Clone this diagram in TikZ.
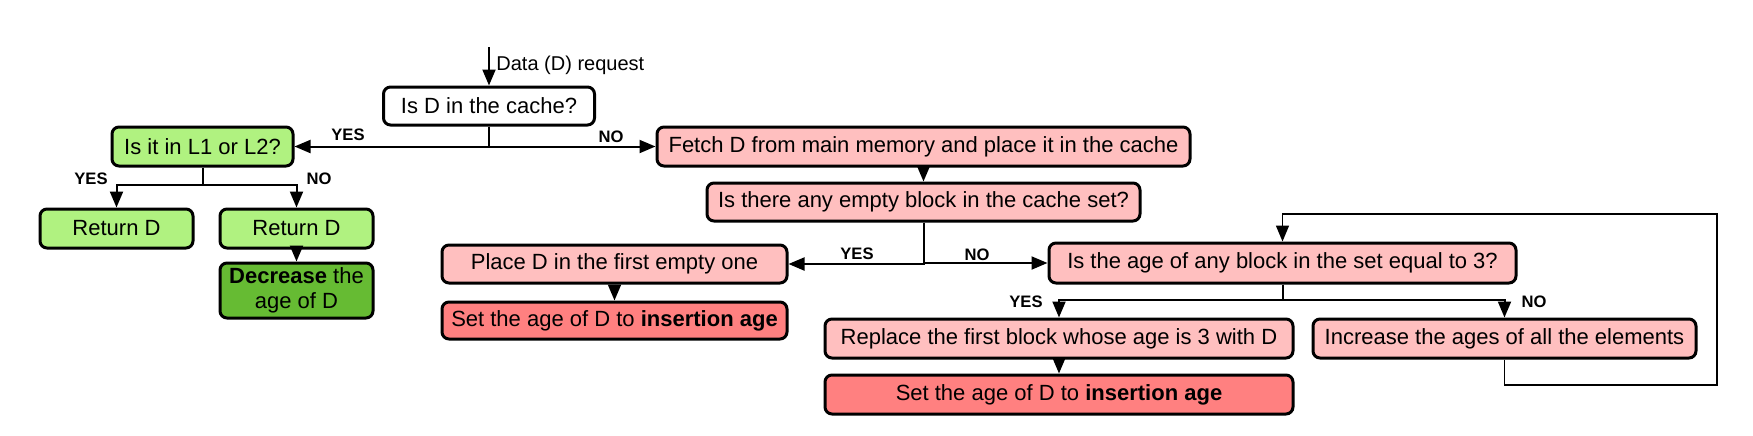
\documentclass[tikz,border=0pt]{standalone}
\usepackage{fontspec}
\setmainfont{Liberation Sans}
\usepackage{xcolor}
\usepackage{tikz}
\usetikzlibrary{positioning,arrows.meta}

\definecolor{pinkbox}{RGB}{255,191,191}
\definecolor{redbox}{RGB}{255,128,128}
\definecolor{lgreen}{RGB}{176,242,128}
\definecolor{dgreen}{RGB}{102,187,51}

\begin{document}
\begin{tikzpicture}[x=0.5pt,y=-0.5pt,
  >={Triangle[length=8pt,width=6.5pt]},
  box/.style={draw,line width=1.5pt,rounded corners=3.5pt,inner sep=0pt,
    font=\fontsize{11pt}{12.5pt}\selectfont,align=center},
  lbl/.style={font=\bfseries\fontsize{8.3pt}{9pt}\selectfont,inner sep=0pt},
  conn/.style={line width=1pt}]
           \useasboundingbox (0,0) rectangle (1753,435);
           % boxes
           \node[box,fill=white,minimum width=105.5pt,minimum height=19pt] (cache) at (489,106) {Is D in the cache?};
           \node[box,fill=lgreen,minimum width=90.5pt,minimum height=19.5pt] (l1) at (202.5,146.5) {Is it in L1 or L2?};
           \node[box,fill=lgreen,minimum width=76.5pt,minimum height=19.5pt] (retA) at (116.5,228.5) {Return D};
           \node[box,fill=lgreen,minimum width=76.5pt,minimum height=19.5pt] (retB) at (296.5,228.5) {Return D};
           \node[box,fill=dgreen,minimum width=76.5pt,minimum height=27.5pt] (dec) at (296.5,290.5) {\textbf{Decrease} the\\age of D};
           \node[box,fill=pinkbox,minimum width=266.5pt,minimum height=19.5pt] (fetch) at (923.5,146.5) {Fetch D from main memory and place it in the cache};
           \node[box,fill=pinkbox,minimum width=216.5pt,minimum height=19pt] (empty) at (923.5,202) {Is there any empty block in the cache set?};
           \node[box,fill=pinkbox,minimum width=172.5pt,minimum height=19pt] (place) at (614.5,264) {Place D in the first empty one};
           \node[box,fill=redbox,minimum width=172.5pt,minimum height=18.5pt] (setA) at (614.5,320.5) {Set the age of D to \textbf{insertion age}};
           \node[box,fill=pinkbox,minimum width=233.5pt,minimum height=20pt] (age) at (1282.5,263) {Is the age of any block in the set equal to 3?};
           \node[box,fill=pinkbox,minimum width=234pt,minimum height=19.5pt] (repl) at (1059,338.5) {Replace the first block whose age is 3 with D};
           \node[box,fill=redbox,minimum width=234pt,minimum height=19.5pt] (setB) at (1059,394.5) {Set the age of D to \textbf{insertion age}};
           \node[box,fill=pinkbox,minimum width=191.5pt,minimum height=19.5pt] (incr) at (1504.5,338.5) {Increase the ages of all the elements};

           % request
           \coordinate (src) at (489,47);
           \node[anchor=west,inner sep=0pt,font=\fontsize{10pt}{11pt}\selectfont] (req) at (496,65) {Data (D) request};
           \draw[conn,->] (src) -- (cache.north);

           % cache hit / miss
           \draw[conn,->] (cache.south) |- (l1.east);
           \draw[conn,->] (cache.south) |- (fetch.west);
           \node[lbl] (yesA) at (348,135) {YES};
           \node[lbl] (noA) at (611,137) {NO};

           \draw[conn,->] (l1.south) -- ++(0,17) -| (retA.north);
           \draw[conn,->] (l1.south) -- ++(0,17) -| (retB.north);
           \node[lbl] (yesB) at (91,179) {YES};
           \node[lbl] (noB) at (319,179) {NO};
           \draw[conn,->] (retB.south) -- (dec.north);

           % miss side
           \draw[conn,->] (fetch.south) -- (empty.north);
           \draw[conn,->] (empty.south) |- (place.east);
           \draw[conn,->] (empty.south) |- (age.west);
           \node[lbl] (yesC) at (857,254) {YES};
           \node[lbl] (noC) at (977,255) {NO};
           \draw[conn,->] (place.south) -- (setA.north);

           \draw[conn,->] (age.south) -- ++(0,15) -| (repl.north);
           \draw[conn,->] (age.south) -- ++(0,15) -| (incr.north);
           \node[lbl] (yesD) at (1026,302) {YES};
           \node[lbl] (noD) at (1534,302) {NO};
           \draw[conn,->] (repl.south) -- (setB.north);

           % loop back
           \coordinate (loopA) at (1717,385);
           \coordinate (loopB) at (1717,214);
           \draw[line width=0.75pt,->] (incr.south) |- (loopA) -- (loopB) -| (age.north);
\end{tikzpicture}
\end{document}
